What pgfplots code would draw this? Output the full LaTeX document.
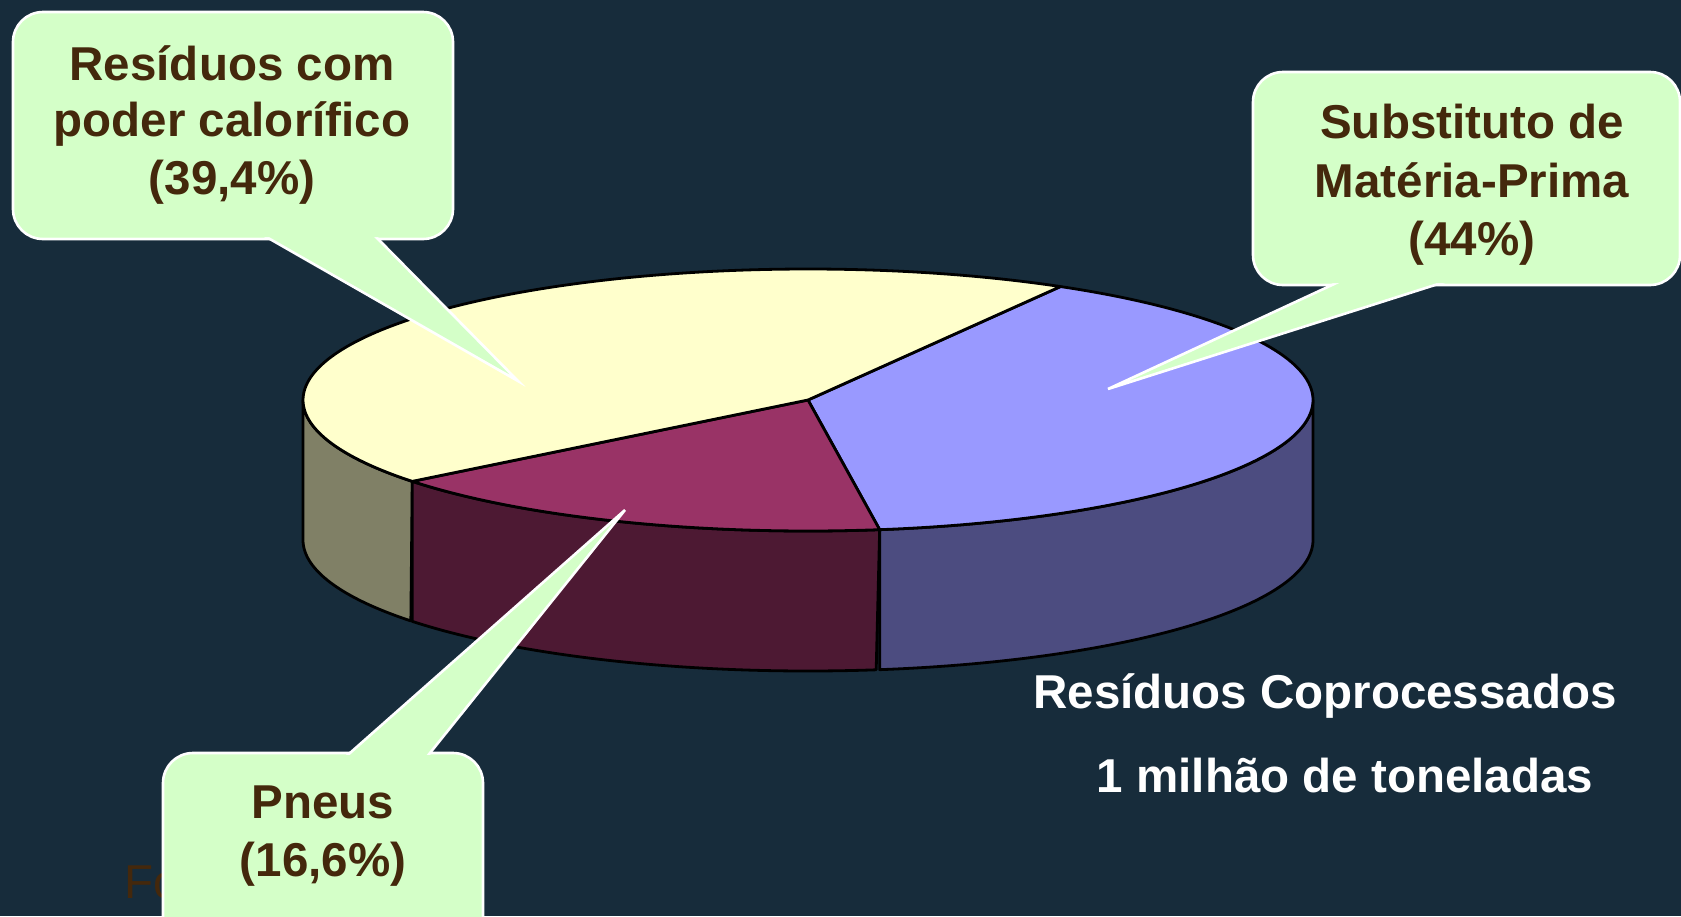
\documentclass[border=0pt]{standalone}
\usepackage{pgfplots}
\pgfplotsset{compat=1.18}
\usepackage{pgfplotstable}
\usepackage{fontspec}
\setmainfont{Liberation Sans}
\definecolor{bg}{RGB}{23,44,59}
\definecolor{yelTop}{RGB}{255,255,204}
\definecolor{yelSide}{RGB}{128,128,102}
\definecolor{bluTop}{RGB}{153,153,255}
\definecolor{bluSide}{RGB}{76,76,128}
\definecolor{purTop}{RGB}{153,51,102}
\definecolor{purSide}{RGB}{77,25,51}
\definecolor{callout}{RGB}{212,255,200}
\definecolor{txtbrown}{RGB}{68,40,12}

% slice values as drawn (clockwise from 60 degrees): blue, purple, yellow
\pgfplotstableread{
slice value
1 39.4
2 16.6
3 44.0
}\piedata

\newcommand\cf{\fontsize{23.75}{28}\selectfont\bfseries}
\newcommand\pcx{808}
\newcommand\pcy{400}
\newcommand\prx{505}
\newcommand\pry{131}
\newcommand\pdep{140}

\begin{document}
\pgfplotstablegetelem{0}{value}\of\piedata \let\vA\pgfplotsretval
\pgfplotstablegetelem{1}{value}\of\piedata \let\vB\pgfplotsretval
\pgfplotstablegetelem{2}{value}\of\piedata \let\vC\pgfplotsretval
\pgfmathsetmacro\aS{60}%
\pgfmathsetmacro\aB{\aS-3.6*\vA}%
\pgfmathsetmacro\aC{\aB-3.6*\vB}%
\pgfmathsetmacro\aD{\aC-3.6*\vC}%
\begin{tikzpicture}
\begin{axis}[width=840.5pt,height=458pt,scale only axis,
  xmin=0,xmax=1681,ymin=0,ymax=916,y dir=reverse,
  axis lines=none, xtick=\empty, ytick=\empty,
  axis background/.style={fill=bg}, clip=true]

% side walls (front half only)
\addplot[fill=yelSide, draw=black, line width=1.4pt, line join=round, domain=0:2, samples=301, variable=\t]
  ({\pcx+\prx*cos(-180+((\aC)+180)*min(\t,2-\t))},
   {\pcy-\pry*sin(-180+((\aC)+180)*min(\t,2-\t))+\pdep*(\t>1)}) -- cycle;
\addplot[fill=purSide, draw=black, line width=1.4pt, line join=round, domain=0:2, samples=301, variable=\t]
  ({\pcx+\prx*cos((\aC)+((\aB)-(\aC))*min(\t,2-\t))},
   {\pcy-\pry*sin((\aC)+((\aB)-(\aC))*min(\t,2-\t))+\pdep*(\t>1)}) -- cycle;
\addplot[fill=bluSide, draw=black, line width=1.4pt, line join=round, domain=0:2, samples=301, variable=\t]
  ({\pcx+\prx*cos((\aB)+(0-(\aB))*min(\t,2-\t))},
   {\pcy-\pry*sin((\aB)+(0-(\aB))*min(\t,2-\t))+\pdep*(\t>1)}) -- cycle;

% top faces
\addplot[fill=bluTop, draw=black, line width=1.4pt, line join=round, domain=\aB:\aS, samples=150, variable=\t]
  ({\pcx+\prx*cos(\t)},{\pcy-\pry*sin(\t)}) -- (axis cs:\pcx,\pcy) -- cycle;
\addplot[fill=purTop, draw=black, line width=1.4pt, line join=round, domain=\aC:\aB, samples=80, variable=\t]
  ({\pcx+\prx*cos(\t)},{\pcy-\pry*sin(\t)}) -- (axis cs:\pcx,\pcy) -- cycle;
\addplot[fill=yelTop, draw=black, line width=1.4pt, line join=round, domain=\aD:\aC, samples=160, variable=\t]
  ({\pcx+\prx*cos(\t)},{\pcy-\pry*sin(\t)}) -- (axis cs:\pcx,\pcy) -- cycle;

% source line (mostly hidden)
\node[anchor=base west, inner sep=0pt, text=txtbrown, font=\fontsize{23.75}{28}\selectfont] at (axis cs:124,898) {Fonte:};

% callout 1
\draw[fill=callout, draw=white, line width=1.3pt, rounded corners=15pt] (axis cs:13,12) rectangle (axis cs:453,239);
\draw[fill=callout, draw=white, line width=1.3pt] (axis cs:250,227.6) -- (axis cs:518,381) -- (axis cs:366.8,227.6) -- cycle;
\fill[callout, rounded corners=14pt] (axis cs:15,14) rectangle (axis cs:451,237);
\node[anchor=base, inner sep=0pt, text=txtbrown, font=\cf] at (axis cs:232,80) {Resíduos com};
\node[anchor=base, inner sep=0pt, text=txtbrown, font=\cf] at (axis cs:232,136) {poder calorífico};
\node[anchor=base, inner sep=0pt, text=txtbrown, font=\cf] at (axis cs:232,194) {(39,4\%)};

% callout 2
\draw[fill=callout, draw=white, line width=1.3pt, rounded corners=15pt] (axis cs:1253,72) rectangle (axis cs:1680,285);
\draw[fill=callout, draw=white, line width=1.3pt] (axis cs:1354.4,274.6) -- (axis cs:1108,389) -- (axis cs:1467.7,274.6) -- cycle;
\fill[callout, rounded corners=14pt] (axis cs:1255,74) rectangle (axis cs:1678,283);
\node[anchor=base, inner sep=0pt, text=txtbrown, font=\cf] at (axis cs:1472,138) {Substituto de};
\node[anchor=base, inner sep=0pt, text=txtbrown, font=\cf] at (axis cs:1472,197) {Matéria-Prima};
\node[anchor=base, inner sep=0pt, text=txtbrown, font=\cf] at (axis cs:1472,255) {(44\%)};

% callout 3
\draw[fill=callout, draw=white, line width=1.3pt, rounded corners=15pt] (axis cs:163,753) rectangle (axis cs:483,960);
\draw[fill=callout, draw=white, line width=1.3pt] (axis cs:328,772.4) -- (axis cs:625,510) -- (axis cs:414.4,772.4) -- cycle;
\fill[callout, rounded corners=14pt] (axis cs:165,755) rectangle (axis cs:481,958);
\node[anchor=base, inner sep=0pt, text=txtbrown, font=\cf] at (axis cs:323,818) {Pneus};
\node[anchor=base, inner sep=0pt, text=txtbrown, font=\cf] at (axis cs:323,876) {(16,6\%)};

% white caption
\node[anchor=base, inner sep=0pt, text=white, font=\cf] at (axis cs:1325,708) {Resíduos Coprocessados};
\node[anchor=base, inner sep=0pt, text=white, font=\cf] at (axis cs:1345,792) {1 milhão de toneladas};
\end{axis}
\pgfresetboundingbox
\path[use as bounding box] (current axis.south west) rectangle (current axis.north east);
\end{tikzpicture}
\end{document}
